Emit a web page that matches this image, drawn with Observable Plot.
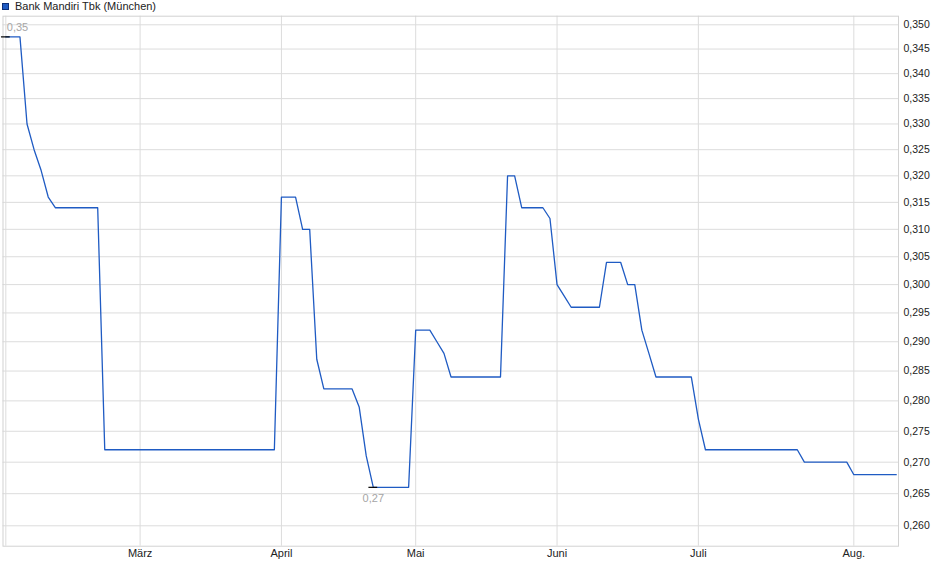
<!DOCTYPE html>
<html>
<head>
<meta charset="utf-8">
<script src="https://cdn.jsdelivr.net/npm/d3@7"></script>
<script src="https://cdn.jsdelivr.net/npm/@observablehq/plot@0.6"></script>
<style>
  html, body { margin: 0; padding: 0; background: #fff; }
  #wrap { width: 940px; font-family: "Liberation Sans", Arial, sans-serif; }
  #legend { position: relative; height: 14px; font-size: 11px; color: #222; line-height: 12px; }
  #legend .sw { position: absolute; left: 2px; top: 2.5px; width: 5px; height: 5px; border: 1px solid #0c2f78; background: #1f5bc3; }
  #legend .lbl { position: absolute; left: 15px; top: 0px; white-space: nowrap; }
</style>
</head>
<body>
<div id="wrap">
  <div id="legend"><span class="sw"></span><span class="lbl" id="legendText"></span></div>
  <div id="chart"></div>
</div>
<script>
// ---- data (one value per trading session) ----
const seriesName = "Bank Mandiri Tbk (München)";
const prices = [
  0.3475, 0.3475, 0.3475, 0.330, 0.325, 0.321, 0.316,
  0.314, 0.314, 0.314, 0.314, 0.314, 0.314, 0.314,
  0.272, 0.272, 0.272, 0.272, 0.272, 0.272, 0.272, 0.272, 0.272, 0.272,
  0.272, 0.272, 0.272, 0.272, 0.272, 0.272, 0.272, 0.272, 0.272, 0.272,
  0.272, 0.272, 0.272, 0.272, 0.272,
  0.316, 0.316, 0.316, 0.310, 0.310, 0.287,
  0.282, 0.282, 0.282, 0.282, 0.282, 0.279, 0.271,
  0.266, 0.266, 0.266, 0.266, 0.266, 0.266,
  0.292, 0.292, 0.292, 0.290, 0.288,
  0.284, 0.284, 0.284, 0.284, 0.284, 0.284, 0.284, 0.284,
  0.320, 0.320, 0.314, 0.314, 0.314, 0.314, 0.312, 0.300, 0.298,
  0.296, 0.296, 0.296, 0.296, 0.296,
  0.304, 0.304, 0.304, 0.300, 0.300, 0.292, 0.288,
  0.284, 0.284, 0.284, 0.284, 0.284, 0.284, 0.277,
  0.272, 0.272, 0.272, 0.272, 0.272, 0.272, 0.272,
  0.272, 0.272, 0.272, 0.272, 0.272, 0.272, 0.272,
  0.270, 0.270, 0.270, 0.270, 0.270, 0.270, 0.270,
  0.268, 0.268, 0.268, 0.268, 0.268, 0.268, 0.268
];
// session index of the first session of each month
const febStartIndex = 0;
const monthStartIndex = [19, 39, 58, 78, 98, 120];
const monthLabels = ["März", "April", "Mai", "Juni", "Juli", "Aug."];
const yTicks = [0.260, 0.265, 0.270, 0.275, 0.280, 0.285, 0.290, 0.295, 0.300,
                0.305, 0.310, 0.315, 0.320, 0.325, 0.330, 0.335, 0.340, 0.345, 0.350];

// ---- chart ----
document.getElementById("legendText").textContent = seriesName;

const fmt3 = d => d3.format(".3f")(d).replace(".", ",");
const fmt2 = d => d3.format(".2f")(d).replace(".", ",");
const maxI = d3.maxIndex(prices);
const minI = d3.minIndex(prices);
const gridColor = "#dcdcdc";

const chart = Plot.plot({
  width: 940,
  height: 565,
  marginTop: 1.7,
  marginBottom: 33.3,
  marginLeft: 2.5,
  marginRight: 42,
  style: { fontFamily: "Liberation Sans, Arial, sans-serif", fontSize: "11px", color: "#222", background: "#fff", overflow: "visible" },
  x: { type: "linear", domain: [-0.4, 126.32] },
  y: { type: "log", domain: [0.25687, 0.35179] },
  marks: [
    Plot.gridY(yTicks, { stroke: gridColor, strokeOpacity: 1 }),
    Plot.gridX([febStartIndex, ...monthStartIndex], { stroke: gridColor, strokeOpacity: 1 }),
    Plot.frame({ stroke: "#d2d2d2" }),
    Plot.axisY({ anchor: "right", ticks: yTicks, tickFormat: fmt3, tickSize: 0, tickPadding: 5, fontSize: 10.5, label: null }),
    Plot.axisX({ ticks: monthStartIndex, tickFormat: d => monthLabels[monthStartIndex.indexOf(d)], tickSize: 0, tickPadding: 3, label: null }),
    Plot.line(prices, { x: (d, i) => i, y: d => d, stroke: "#1f5bc3", strokeWidth: 1.3 }),
    Plot.ruleY([prices[maxI]], { x1: () => maxI - 0.62, x2: () => maxI + 0.62, stroke: "#000", strokeWidth: 1.2 }),
    Plot.ruleY([prices[minI]], { x1: () => minI - 0.62, x2: () => minI + 0.62, stroke: "#000", strokeWidth: 1.2 }),
    Plot.text([prices[maxI]], { x: () => maxI, y: d => d, text: d => fmt2(d), dx: 1, dy: -9.5, textAnchor: "start", fill: "#a6a6a6", fontSize: 11 }),
    Plot.text([prices[minI]], { x: () => minI, y: d => d, text: d => fmt2(d), dy: 11, textAnchor: "middle", fill: "#a6a6a6", fontSize: 11 })
  ]
});
document.getElementById("chart").appendChild(chart);
</script>
</body>
</html>
